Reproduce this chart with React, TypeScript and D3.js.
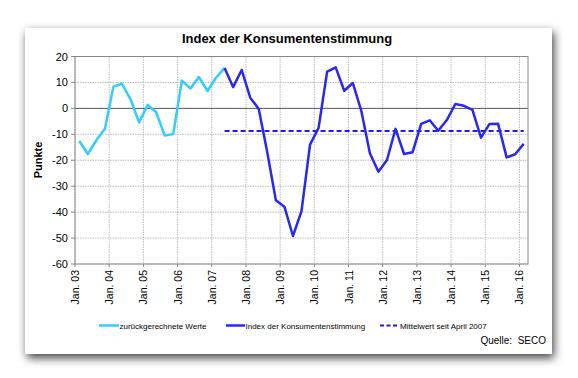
import React from "react";
import * as d3 from "d3";

const title = "Index der Konsumentenstimmung";
const yLabel = "Punkte";
const source = "Quelle:  SECO";
const yearLabels = ["Jan. 03","Jan. 04","Jan. 05","Jan. 06","Jan. 07","Jan. 08","Jan. 09","Jan. 10","Jan. 11","Jan. 12","Jan. 13","Jan. 14","Jan. 15","Jan. 16"];
const yTicks = [20, 10, 0, -10, -20, -30, -40, -50, -60];
const quarterCount = 53; // Jan 03 .. Jan 16, quarterly

// back-calculated values, quarters 0..17 (Jan 03 .. Apr 07)
const backcastStart = 0;
const backcast = [-12.6, -17.6, -12.3, -7.9, 8.4, 9.5, 3.5, -5.4, 1.3, -1.5, -10.5, -9.9, 10.7, 7.7, 12.1, 6.7, 11.8, 15.6];
// official index, quarters 17..52 (Apr 07 .. Jan 16)
const indexStart = 17;
const indexValues = [15.6, 8.2, 14.8, 4.1, -0.2, -17, -35.4, -37.9, -49.2, -39.6, -14, -7.5, 14.2, 15.8, 6.8, 9.8, -1, -17.3, -24.4, -19.9, -7.9, -17.6, -16.9, -6.0, -4.6, -8.6, -4.5, 1.7, 1.0, -0.6, -11.3, -6.0, -5.9, -18.9, -17.7, -13.7];
const meanValue = -8.7;
const legendLabels = ["zurückgerechnete Werte", "Index der Konsumentenstimmung", "Mittelwert seit April 2007"];

const LIGHT = "#33CCFF";
const DARK = "#2828F5";
const DASH = "#1E1EDC";
const FONT = "'Liberation Sans', Arial, sans-serif";

export default function App() {
  const W = 578, H = 378;
  const left = 75, right = 528, top = 56.5, bottom = 264;
  const x = d3.scaleLinear().domain([0, quarterCount]).range([left, right]);
  const y = d3.scaleLinear().domain([-60, 20]).range([bottom, top]);
  const line = d3.line<[number, number]>().x(d => x(d[0] + 0.5)).y(d => y(d[1]));
  const backPts: [number, number][] = backcast.map((v, i) => [backcastStart + i, v]);
  const idxPts: [number, number][] = indexValues.map((v, i) => [indexStart + i, v]);
  const meanPts: [number, number][] = [[indexStart, meanValue], [quarterCount - 1, meanValue]];

  const legendY = 325.5;
  const legendItems = [
    { x1: 99, x2: 119, color: LIGHT, dash: undefined, tx: 119.5, label: legendLabels[0], w: 2.5 },
    { x1: 226, x2: 245, color: DARK, dash: undefined, tx: 245.5, label: legendLabels[1], w: 2.5 },
    { x1: 380, x2: 398, color: DASH, dash: "4,2.5", tx: 400, label: legendLabels[2], w: 2 },
  ];

  return (
    <svg width={W} height={H} style={{ position: "absolute", left: 0, top: 0, background: "#fff" }}>
      <defs>
        <filter id="sh" x="-10%" y="-10%" width="120%" height="130%">
          <feDropShadow dx="2" dy="4" stdDeviation="5" floodColor="#000" floodOpacity="0.75" />
        </filter>
      </defs>
      <rect x={0} y={0} width={W} height={H} fill="#fff" />
      <rect x={25} y={28} width={527} height={326} fill="#fff" filter="url(#sh)" />
      <text x={287} y={43} textAnchor="middle" fontFamily={FONT} fontWeight="bold" fontSize={13} fill="#000">{title}</text>

      {/* grid */}
      {yTicks.map(t => (
        <line key={"gy" + t} x1={left} x2={right} y1={y(t)} y2={y(t)}
          stroke={t === 0 ? "#555" : "#aaa"} strokeWidth={t === 0 ? 1 : 0.8}
          strokeDasharray={t === 0 ? undefined : "1.5,1"} />
      ))}
      {yearLabels.map((l, k) => (
        <line key={"gx" + l} x1={x(k * 4)} x2={x(k * 4)} y1={top} y2={bottom}
          stroke="#aaa" strokeWidth={0.8} strokeDasharray="1.5,1" />
      ))}
      {/* plot border */}
      <rect x={left} y={top} width={right - left} height={bottom - top} fill="none" stroke="#888" strokeWidth={1} />
      {/* ticks */}
      {yTicks.map(t => (
        <line key={"ty" + t} x1={left - 4} x2={left} y1={y(t)} y2={y(t)} stroke="#888" />
      ))}
      {yearLabels.map((l, k) => (
        <line key={"tx" + l} x1={x(k * 4)} x2={x(k * 4)} y1={bottom} y2={bottom + 3} stroke="#888" />
      ))}
      {yTicks.map(t => (
        <text key={"ly" + t} x={68} y={y(t) + 4} textAnchor="end" fontFamily={FONT} fontSize={11} fill="#000">{t}</text>
      ))}
      {yearLabels.map((l, k) => (
        <text key={"lx" + l} transform={`translate(${x(k * 4) + 4},${270}) rotate(-90)`} textAnchor="end"
          fontFamily={FONT} fontSize={10.5} fill="#000">{l}</text>
      ))}
      <text transform={`translate(42,160) rotate(-90)`} textAnchor="middle" fontFamily={FONT} fontWeight="bold" fontSize={11} fill="#000">{yLabel}</text>

      {/* series */}
      <path d={line(meanPts) || ""} fill="none" stroke={DASH} strokeWidth={2} strokeDasharray="5,3" />
      <path d={line(backPts) || ""} fill="none" stroke={LIGHT} strokeWidth={2.5} strokeLinejoin="round" />
      <path d={line(idxPts) || ""} fill="none" stroke={DARK} strokeWidth={2.5} strokeLinejoin="round" />

      {/* legend */}
      {legendItems.map(it => (
        <g key={it.label}>
          <line x1={it.x1} x2={it.x2} y1={legendY} y2={legendY} stroke={it.color} strokeWidth={it.w} strokeDasharray={it.dash} />
          <text x={it.tx} y={legendY + 3} fontFamily={FONT} fontSize={8} fill="#000">{it.label}</text>
        </g>
      ))}
      <text x={546} y={344} textAnchor="end" fontFamily={FONT} fontSize={10} fill="#000" style={{ whiteSpace: "pre" }}>{source}</text>
    </svg>
  );
}
